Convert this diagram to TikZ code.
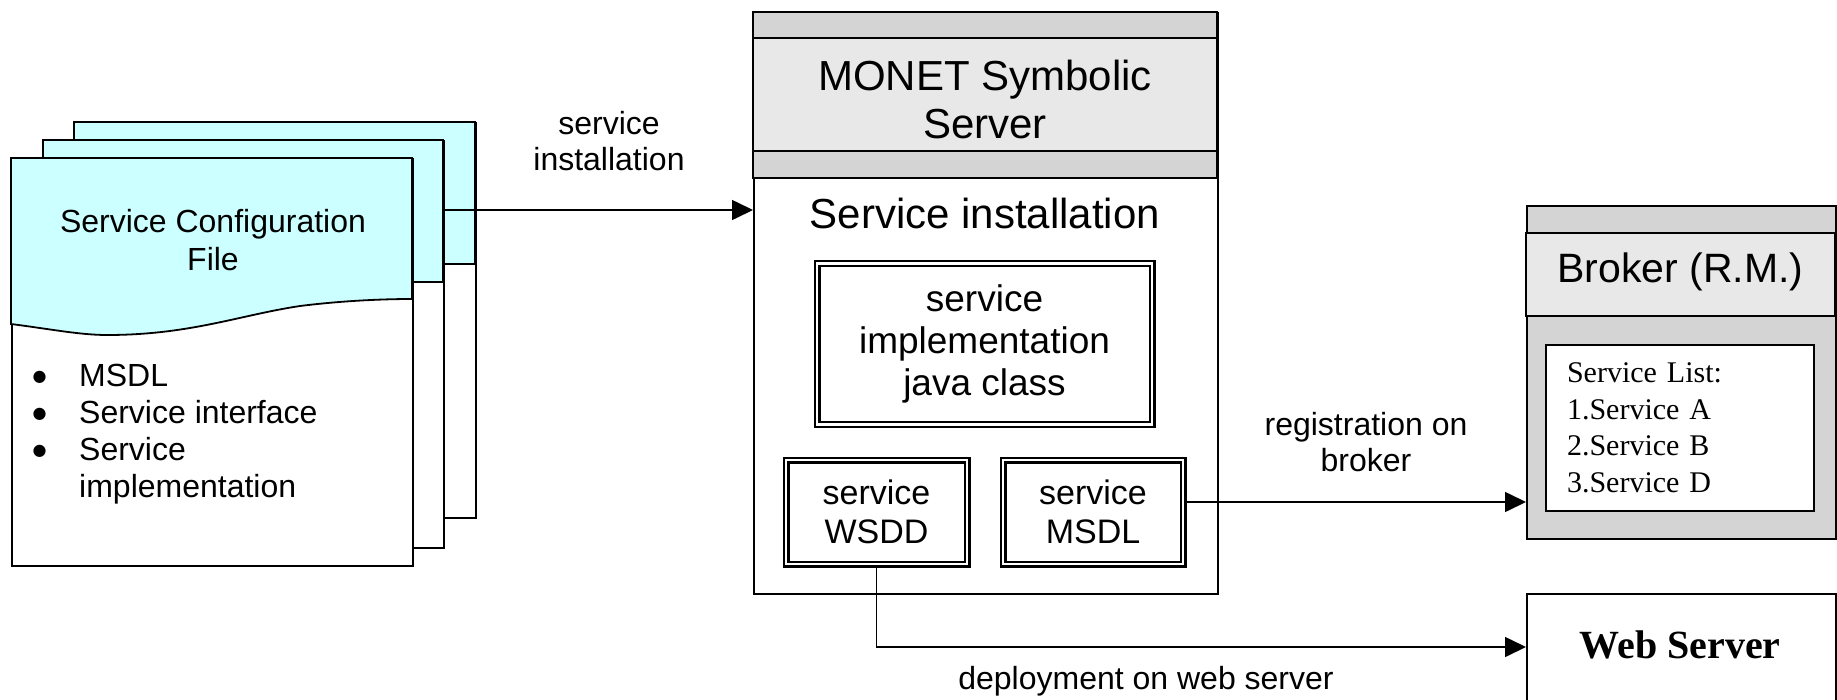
\documentclass[tikz,border=0pt]{standalone}
\usepackage{fontspec}
\setmainfont{Liberation Sans}
\newfontfamily\timesfont{Liberation Serif}
\newfontfamily\symfont{DejaVu Sans}
\usetikzlibrary{arrows.meta}

\definecolor{paper}{HTML}{CCFFFF}
\definecolor{bandgrey}{HTML}{D4D4D4}
\definecolor{titlegrey}{HTML}{E8E8E8}

% bullet mark of the item list
\newcommand{\itemdot}{\makebox[11pt][c]{\symfont\fontsize{16}{18}\selectfont\raisebox{5.5pt}{●}}}

\begin{document}
\begin{tikzpicture}[x=1pt,y=-1pt,
  frame/.style={draw=black, line width=1.8pt},
  page/.style={frame, fill=white, anchor=north west, inner sep=0pt},
  conn/.style={draw=black, line width=1.6pt},
  tip/.style={-{Triangle[length=21pt,width=20pt]}},
  dbox/.style={draw=black, double=white, double distance=2.6pt, line width=2.2pt,
    inner sep=0pt, align=center},
  lbl/.style={align=center, inner sep=0pt, font=\fontsize{32}{36}\selectfont},
]
\path[use as bounding box, fill=white] (0,0) rectangle (1837,699);

% ---- stack of configuration files (back to front) ----
\node[page, minimum width=401pt, minimum height=395pt] (page3) at (74,122) {};
\path[frame, fill=paper] (74,122) rectangle (475,264);
\node[page, minimum width=400pt, minimum height=407pt] (page2) at (43,140) {};
\path[frame, fill=paper] (43,140) rectangle (443,282);
\node[page, minimum width=401pt, minimum height=407pt] (page1) at (11,158) {};
\path[frame, fill=paper] (11,158) -- (412,158) -- (412,299)
  .. controls (380,299) and (340,301) .. (300,306)
  .. controls (240,315) and (190,335) .. (107,335)
  .. controls (80,335) and (50,329) .. (11,324) -- cycle;

\node[align=center, inner sep=0pt, font=\fontsize{32}{38}\selectfont]
  (cfgtitle) at (213,240) {Service Configuration\\File};
\node[anchor=base west, inner sep=0pt, font=\fontsize{32}{37}\selectfont]
  (cfgitems) at (34,386.5)
  {\begin{tabular}[t]{@{}l@{\hspace{34pt}}l@{}}
   \itemdot & MSDL\\
   \itemdot & Service interface\\
   \itemdot & Service\\
            & implementation
   \end{tabular}};

% ---- MONET symbolic server ----
\node[page, minimum width=464pt, minimum height=581pt] (monet) at (753,12) {};
\path[frame, fill=bandgrey]  (753,12)  rectangle (1217,38);
\path[frame, fill=titlegrey] (753,38)  rectangle (1217,151);
\path[frame, fill=bandgrey]  (753,151) rectangle (1217,178);
\node[align=center, inner sep=0pt, font=\fontsize{42}{48}\selectfont]
  (monettitle) at (985,99) {MONET Symbolic\\Server};
\node[inner sep=0pt, font=\fontsize{42}{48}\selectfont]
  (install) at (985,213) {Service installation};

\node[dbox, minimum width=335pt, minimum height=161pt,
  font=\fontsize{37}{42}\selectfont] (impl) at (984.5,344)
  {service\\implementation\\java class};
\node[dbox, minimum width=181pt, minimum height=104pt,
  font=\fontsize{34}{39}\selectfont] (wsdd) at (876.5,512) {service\\WSDD};
\node[dbox, minimum width=180pt, minimum height=104pt,
  font=\fontsize{34}{39}\selectfont] (msdl) at (1093,512) {service\\MSDL};

% ---- broker ----
\node[page, fill=bandgrey, minimum width=309pt, minimum height=333pt]
  (broker) at (1526,205) {};
\path[frame, fill=titlegrey] (1526,233) rectangle (1835,316);
\node[inner sep=0pt, font=\fontsize{41}{47}\selectfont]
  (brokertitle) at (1680.5,272) {Broker (R.M.)};
\node[draw=black, line width=1.5pt, fill=white, minimum height=166pt,
  text width=226pt, inner xsep=21pt, align=left,
  font=\timesfont\fontsize{30}{36.5}\selectfont] (svclist) at (1680,428)
  {Service List:\\1.Service A\\2.Service B\\3.Service D};

% ---- web server ----
\node[page, minimum width=309pt, minimum height=140pt] (web) at (1526,593) {};
\node[inner sep=0pt, font=\timesfont\bfseries\fontsize{40}{46}\selectfont]
  (webtitle) at (1680,645) {Web Server};

% ---- connectors ----
\draw[conn, tip] (page2.east |- 0,210) -- (monet.west |- 0,210);
\draw[conn, tip] (msdl.east |- 0,502) -- (broker.west |- 0,502);
\draw[conn, tip] (wsdd.south) -- (wsdd.south |- 0,647) -- (web.west |- 0,647);

% ---- connector labels ----
\node[lbl] (lblinstall) at (609,141) {service\\installation};
\node[lbl] (lblbroker) at (1366,442) {registration on\\broker};
\node[lbl] (lbldeploy) at (1146,681) {deployment on web server};
\end{tikzpicture}
\end{document}
